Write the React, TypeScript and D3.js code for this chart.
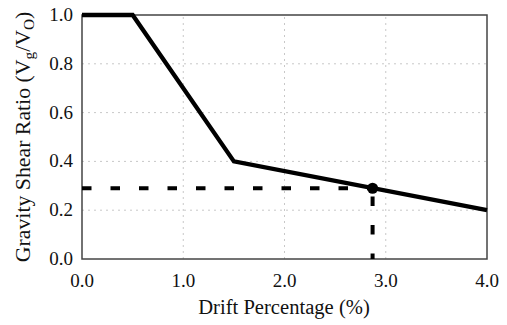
import React from 'react';
import * as d3 from 'd3';

// Backbone curve: drift (%) vs gravity shear ratio
const driftValues = [0.0, 0.5, 1.5, 4.0];
const shearRatios = [1.0, 1.0, 0.4, 0.2];

// Marked design point
const pointDrift = 2.87;
const pointRatio = 0.29;

const xTicks = [0, 1, 2, 3, 4];
const yTicks = [0, 0.2, 0.4, 0.6, 0.8, 1.0];

const W = 507;
const H = 325;
const margin = { top: 15, right: 20, bottom: 66, left: 82 };
const serif = { fontFamily: "'Liberation Serif'" };

export default function App() {
  const x = d3.scaleLinear().domain([0, 4]).range([margin.left, W - margin.right]);
  const y = d3.scaleLinear().domain([0, 1]).range([H - margin.bottom, margin.top]);

  const line = d3
    .line<number>()
    .x((_, i) => x(driftValues[i]))
    .y((d) => y(d));

  return (
    <svg
      width={W}
      height={H}
      style={{ position: 'absolute', left: 0, top: 0, background: '#fff' }}
    >
      {/* gridlines */}
      {xTicks.slice(1, -1).map((t) => (
        <line
          key={`gx${t}`}
          x1={x(t)}
          x2={x(t)}
          y1={y(0)}
          y2={y(1)}
          stroke="#c8c8c8"
          strokeWidth={1}
          strokeDasharray="2,4"
        />
      ))}
      {yTicks.slice(1, -1).map((t) => (
        <line
          key={`gy${t}`}
          x1={x(0)}
          x2={x(4)}
          y1={y(t)}
          y2={y(t)}
          stroke="#c8c8c8"
          strokeWidth={1}
          strokeDasharray="2,4"
        />
      ))}

      {/* frame */}
      <rect
        x={x(0)}
        y={y(1)}
        width={x(4) - x(0)}
        height={y(0) - y(1)}
        fill="none"
        stroke="#444"
        strokeWidth={1.5}
      />

      {/* dashed guides */}
      <line
        x1={x(0)}
        x2={x(pointDrift)}
        y1={y(pointRatio)}
        y2={y(pointRatio)}
        stroke="#000"
        strokeWidth={4}
        strokeDasharray="9.5,19"
      />
      <line
        x1={x(pointDrift)}
        x2={x(pointDrift)}
        y1={y(0)}
        y2={y(pointRatio)}
        stroke="#000"
        strokeWidth={4}
        strokeDasharray="9.5,19"
        strokeDashoffset={4}
      />

      {/* curve */}
      <path
        d={line(shearRatios) || ''}
        fill="none"
        stroke="#000"
        strokeWidth={4.3}
        strokeLinejoin="miter"
      />
      <circle cx={x(pointDrift)} cy={y(pointRatio)} r={5.5} fill="#000" />

      {/* tick labels */}
      {xTicks.map((t) => (
        <text
          key={`tx${t}`}
          x={x(t)}
          y={y(0) + 28}
          textAnchor="middle"
          fontSize={19}
          fill="#111"
          style={serif}
        >
          {t.toFixed(1)}
        </text>
      ))}
      {yTicks.map((t) => (
        <text
          key={`ty${t}`}
          x={x(0) - 9}
          y={y(t) + 6}
          textAnchor="end"
          fontSize={19}
          fill="#111"
          style={serif}
        >
          {t.toFixed(1)}
        </text>
      ))}

      {/* axis titles */}
      <text
        transform={`translate(${(x(0) + x(4)) / 2 - 0.5},${y(0) + 55}) scale(1.03,1)`}
        textAnchor="middle"
        fontSize={20}
        fill="#111"
        style={serif}
      >
        Drift Percentage (%)
      </text>
      <text
        transform={`translate(30,${(y(0) + y(1)) / 2}) rotate(-90) scale(1.09,1)`}
        textAnchor="middle"
        fontSize={20}
        fill="#111"
        style={serif}
      >
        Gravity Shear Ratio (V
        <tspan fontSize={14} dy={4}>g</tspan>
        <tspan dy={-4}>/V</tspan>
        <tspan fontSize={14} dy={4}>O</tspan>
        <tspan dy={-4}>)</tspan>
      </text>
    </svg>
  );
}
